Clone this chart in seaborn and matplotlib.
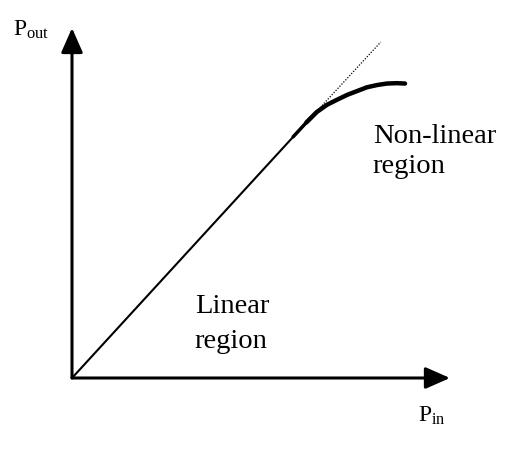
import numpy as np
import pandas as pd
import matplotlib
matplotlib.use('Agg')
import matplotlib.pyplot as plt
import seaborn as sns

sns.set_style('white')
plt.rcParams['font.family'] = ['Liberation Serif', 'DejaVu Serif']
plt.rcParams['mathtext.fontset'] = 'custom'
plt.rcParams['mathtext.rm'] = 'Liberation Serif'
plt.rcParams['mathtext.it'] = 'Liberation Serif'
plt.rcParams['text.color'] = 'black'

# 線形領域 (Pin, Pout)
lin_pin = [0.0, 6.20]
lin_pout = [0.0, 6.76]

# 非線形領域 (飽和カーブ)
sat_pin = [5.85, 6.20, 6.48, 6.75, 7.01, 7.28, 7.54, 7.80, 8.07, 8.33, 8.60, 8.81]
sat_pout = [6.38, 6.76, 7.04, 7.23, 7.36, 7.49, 7.59, 7.69, 7.75, 7.79, 7.80, 7.79]

# 理想直線の延長 (点線)
ext_pin = [6.20, 8.17]
ext_pout = [6.76, 8.89]

# 軸の長さ
x_axis_end = 10.0
y_axis_end = 9.26

fig = plt.figure(figsize=(5.13, 4.50), dpi=100)
ax = fig.add_axes([0, 0, 1, 1])
ax.set_xlim(-72 / 37.8, (513 - 72) / 37.8)
ax.set_ylim(-72 / 37.8, 378 / 37.8)
ax.axis('off')

sns.lineplot(x=lin_pin, y=lin_pout, ax=ax, color='black', lw=1.5, sort=False)
sns.lineplot(x=sat_pin[:3], y=sat_pout[:3], ax=ax, color='black', lw=2.5, sort=False,
             solid_capstyle='round')
sns.lineplot(x=sat_pin[1:], y=sat_pout[1:], ax=ax, color='black', lw=3.2, sort=False,
             solid_capstyle='round')
sns.lineplot(x=ext_pin, y=ext_pout, ax=ax, color='black', lw=0.9,
             linestyle=(0, (1, 1.3)), sort=False)

arrow = dict(arrowstyle='-|>,head_length=0.75,head_width=0.33', color='black',
             lw=2.2, mutation_scale=20, shrinkA=0, shrinkB=0)
ax.annotate('', xy=(x_axis_end, 0), xytext=(0, 0), arrowprops=arrow)
ax.annotate('', xy=(0, y_axis_end), xytext=(0, 0), arrowprops=arrow)

fs = 20.5
ax.text(7.96, 6.22, 'Non-linear', fontsize=fs, ha='left', va='baseline', color='black')
ax.text(7.96, 5.42, 'region', fontsize=fs, ha='left', va='baseline', color='black')
ax.text(3.25, 1.72, 'Linear', fontsize=fs, ha='left', va='baseline', color='black')
ax.text(3.25, 0.79, 'region', fontsize=fs, ha='left', va='baseline', color='black')

ax.text(-1.56, 9.05, r'$\mathregular{P_{out}}$', fontsize=17, ha='left', va='baseline',
        color='black')
ax.text(9.15, -1.16, r'$\mathregular{P_{in}}$', fontsize=17, ha='left', va='baseline',
        color='black')

fig.savefig('out.png', dpi=100)
